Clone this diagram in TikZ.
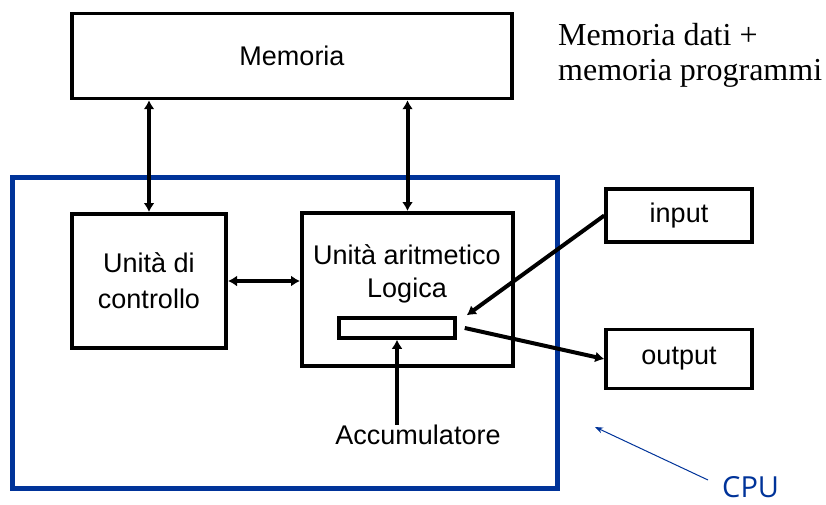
\documentclass[tikz,border=0pt]{standalone}
\usepackage{fontspec}
\setmainfont{Liberation Serif}
\setsansfont{Liberation Sans}
\newfontfamily\cpufont{Open Sans}
\usetikzlibrary{arrows.meta,positioning,calc}
\definecolor{cpublue}{RGB}{0,51,153}
\tikzset{
	block/.style={
		rectangle,
		draw=black,
		line width=4pt,
		fill=white,
		font=\sffamily\fontsize{27}{36}\selectfont,
		align=center,
		inner sep=0pt,
	},
	blocktext/.style={
		font=\sffamily\fontsize{27}{33}\selectfont,
		align=center,
		inner sep=0pt,
	},
	bus/.style={
		line width=4pt,
		{Latex[length=9pt,width=11pt]}-{Latex[length=9pt,width=11pt]},
	},
	flow/.style={
		line width=4pt,
		-{Latex[length=9pt,width=11pt]},
	},
}

\begin{document}
\begin{tikzpicture}[x=1pt, y=-1pt]
	\useasboundingbox (0,0) rectangle (826,505);

	% CPU boundary
	\node [draw=cpublue, line width=5pt, minimum width=545pt, minimum height=311pt, inner sep=0pt] (cpu) at (284.5,332.5) {};

	\node [block, line width=3.5pt, minimum width=440pt, minimum height=85pt] (mem) at (292,56) {Memoria};
	\node [font=\fontsize{32}{35}\selectfont, align=left, anchor=north west, inner sep=0pt] (memnote) at (558,23) {Memoria dati +\\memoria programmi};

	\node [block, minimum width=154pt, minimum height=134pt] (cu) at (149,281) {Unità di\\controllo};
	\node [block, minimum width=211pt, minimum height=153pt] (alu) at (407.5,289.5) {};
	\node [blocktext] (alutxt) at (407,274) {Unità aritmetico\\Logica};
	\node [block, line width=3.5pt, minimum width=116pt, minimum height=20pt] (acc) at (397,328) {};
	\node [blocktext] (acclbl) at (418,435) {Accumulatore};

	\node [block, line width=3.5pt, minimum width=146pt, minimum height=53pt] (in) at (679,215.5) {input};
	\node [block, line width=3.5pt, minimum width=146pt, minimum height=59pt] (out) at (679,359) {output};

	\node [text=cpublue, font=\cpufont\fontsize{29}{30}\selectfont, inner sep=0pt, anchor=north west] (cpulbl) at (722,476) {CPU};
	\coordinate (cpuptr) at (595,427);

	% buses
	\draw [bus] (cu.north) -- (cu.north |- mem.south);
	\draw [bus] (alu.north) -- (alu.north |- mem.south);
	\draw [bus] (cu.east) -- (cu.east -| alu.west);

	% data paths
	\draw [flow] (in.west) -- ($(acc.north east)+(10,-1)$);
	\draw [flow] ($(acc.east)+(8,0)$) -- (out.west);
	\draw [flow] (acclbl.north -| acc.south) -- (acc.south);

	\draw [cpublue, line width=1pt, -{Stealth[length=8pt,width=6pt]}] ($(cpulbl.north west)+(-14,4)$) -- (cpuptr);
\end{tikzpicture}
\end{document}
